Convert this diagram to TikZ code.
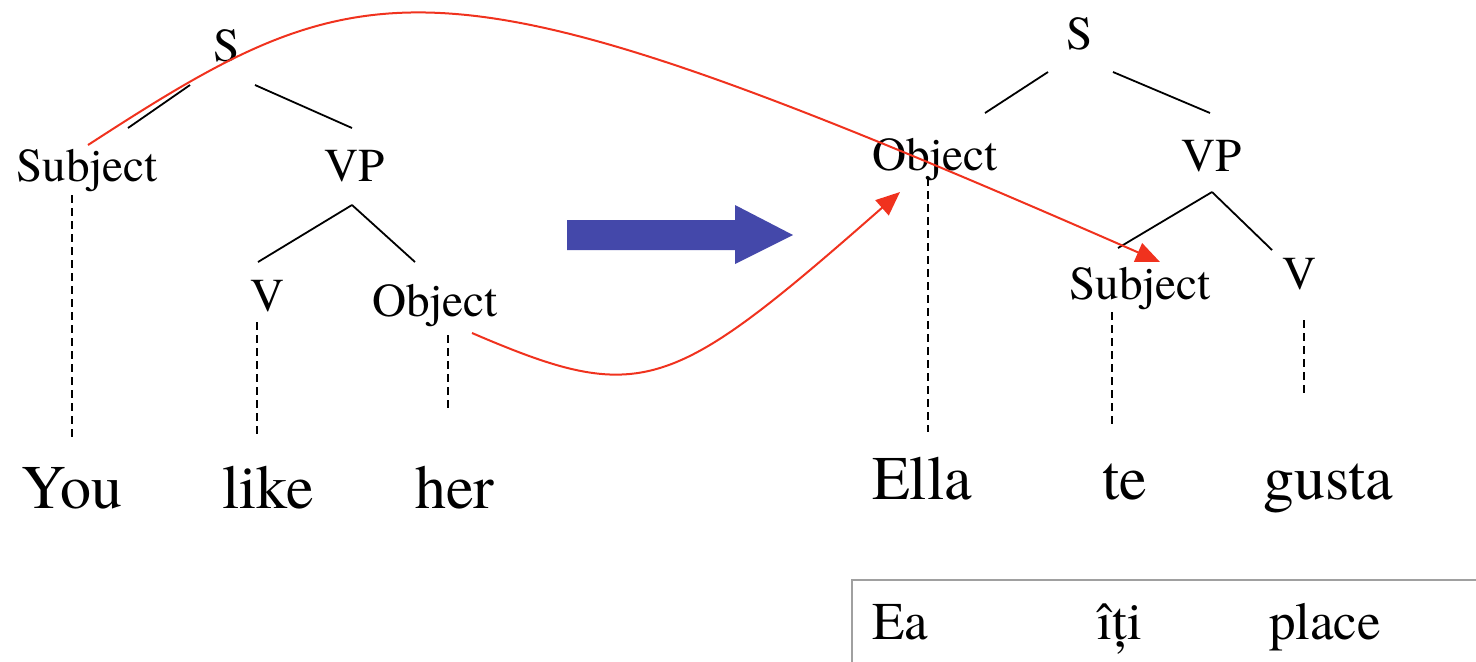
\documentclass[tikz,border=0pt]{standalone}
\usepackage{fontspec}
\setmainfont{texgyretermes}[Extension = .otf, UprightFont = *-regular, BoldFont = *-bold, ItalicFont = *-italic]
\usetikzlibrary{arrows.meta}

\begin{document}
\begin{tikzpicture}[x = 0.5pt, y = -0.5pt,
        lbl/.style = {anchor = base, inner sep = 0pt, font = \rmfamily\fontsize{23.6}{28}\selectfont},
        word/.style = {anchor = base, inner sep = 0pt, font = \rmfamily\fontsize{31}{36}\selectfont},
        gloss/.style = {anchor = base, inner sep = 0pt, font = \rmfamily\fontsize{26.5}{32}\selectfont},
        branch/.style = {draw, line width = 0.9pt},
        trace/.style = {draw, line width = 0.9pt, dash pattern = on 4pt off 2.5pt},
        move/.style = {draw, line width = 1pt, color = myred, -{Triangle[length = 12pt, width = 10pt]}}]
        \path[use as bounding box] (0, 0) rectangle (1476, 661);
        \definecolor{myred}{RGB}{240,50,30}
        \definecolor{myblue}{RGB}{68,72,170}
        \definecolor{mygrey}{RGB}{160,160,160}

        % english tree
        \node[lbl] at (227, 61) (s1) {S};
        \node[lbl] at (87, 181) (subj1) {Subject};
        \node[lbl] at (355, 181) (vp1) {VP};
        \node[lbl] at (268, 311) (v1) {V};
        \node[lbl] at (435, 316) (obj1) {Object};
        \node[word] at (72, 508) (you) {You};
        \node[word] at (268, 508) (like) {like};
        \node[word] at (455, 508) (her) {her};

        \path[branch] ([shift = {(-37, 24)}] s1.base) -- ([shift = {(41, -53)}] subj1.base);
        \path[branch] ([shift = {(28, 24)}] s1.base) -- ([shift = {(-3, -53)}] vp1.base);
        \path[branch] ([shift = {(-3, 24)}] vp1.base) -- ([shift = {(-10, -49)}] v1.base);
        \path[branch] ([shift = {(-3, 24)}] vp1.base) -- ([shift = {(-20, -54)}] obj1.base);
        \path[trace] ([shift = {(-15, 14)}] subj1.base) -- ([shift = {(0, -68)}] you.base);
        \path[trace] ([shift = {(-11, 11)}] v1.base) -- ([shift = {(-11, -71)}] like.base);
        \path[trace] ([shift = {(13, 19)}] obj1.base) -- ([shift = {(-7, -100)}] her.base);

        \path[fill = myblue] (567, 220) -- (735, 220) -- (735, 205) -- (793, 235) -- (735, 264) -- (735, 250) -- (567, 250) -- cycle;

        % spanish tree
        \node[lbl] at (1080, 49) (s2) {S};
        \node[lbl] at (935, 170) (obj2) {Object};
        \node[lbl] at (1212, 171) (vp2) {VP};
        \node[lbl] at (1140, 299) (subj2) {Subject};
        \node[lbl] at (1300, 289) (v2) {V};
        \node[word] at (922, 499) (ella) {Ella};
        \node[word] at (1125, 499) (te) {te};
        \node[word] at (1328, 499) (gusta) {gusta};

        \path[branch] ([shift = {(-32, 23)}] s2.base) -- ([shift = {(50, -57)}] obj2.base);
        \path[branch] ([shift = {(33, 23)}] s2.base) -- ([shift = {(-2, -58)}] vp2.base);
        \path[branch] ([shift = {(0, 21)}] vp2.base) -- ([shift = {(-22, -51)}] subj2.base);
        \path[branch] ([shift = {(0, 21)}] vp2.base) -- ([shift = {(-28, -39)}] v2.base);
        \path[trace] ([shift = {(-7, 8)}] obj2.base) -- ([shift = {(6, -67)}] ella.base);
        \path[trace] ([shift = {(-28, 13)}] subj2.base) -- ([shift = {(-13, -71)}] te.base);
        \path[trace] ([shift = {(4, 31)}] v2.base) -- ([shift = {(-24, -104)}] gusta.base);

        \path[move] ([shift = {(1, -36)}] subj1.base) .. controls +(285, -185) and +(-724, -317) .. ([shift = {(20, -37)}] subj2.base);
        \path[move] ([shift = {(37, 17)}] obj1.base) .. controls +(170, 73) and +(-230, 202) .. ([shift = {(-35, 22)}] obj2.base);

        % romanian gloss
        \path[draw, color = mygrey, line width = 1pt] (852, 580) rectangle (1500, 700);
        \node[gloss] at (900, 639) (ea) {Ea};
        \node[gloss] at (1120, 639) (iti) {îți};
        \node[gloss] at (1325, 639) (place) {place};
\end{tikzpicture}
\end{document}
